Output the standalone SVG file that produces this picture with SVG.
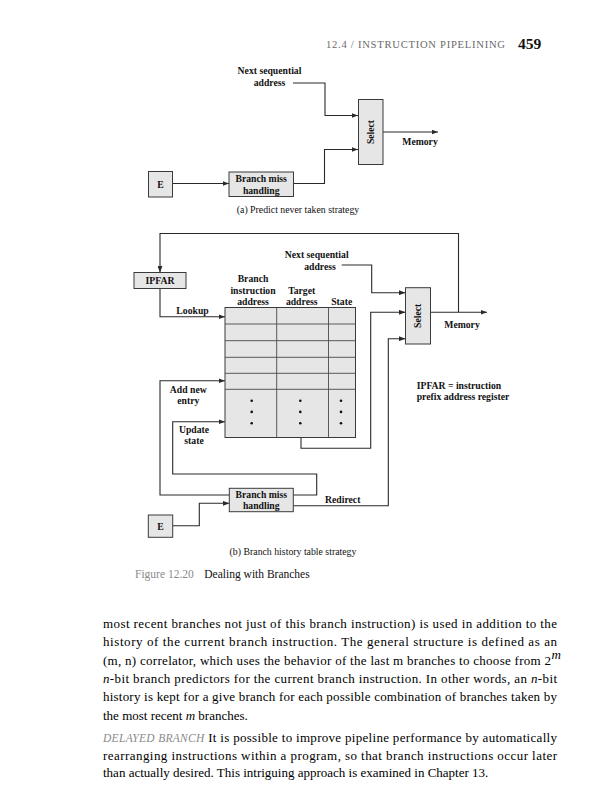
<svg xmlns="http://www.w3.org/2000/svg" width="604" height="800" viewBox="0 0 604 800">
<style>
  .bg{fill:#ffffff}
  .box{fill:#e6e6e6;stroke:#3a3a3a;stroke-width:1}
  .wire{fill:none;stroke:#2a2a2a;stroke-width:1.1}
  .grid{fill:none;stroke:#4a4a4a;stroke-width:0.9}
  .lbl{font-family:"Liberation Serif","Times New Roman",serif;font-weight:bold;font-size:9.7px;fill:#111;text-anchor:middle}
  .lbll{font-family:"Liberation Serif","Times New Roman",serif;font-weight:bold;font-size:9.7px;fill:#111}
  .cap{font-family:"Liberation Serif","Times New Roman",serif;font-size:9.8px;fill:#111;text-anchor:middle}
  .body{font-family:"Liberation Serif","Times New Roman",serif;font-size:13px;fill:#000}
  .dot{fill:#111}
</style>
<defs>
  <marker id="ah" viewBox="0 0 8 6" refX="8" refY="3" markerWidth="6.5" markerHeight="5" markerUnits="userSpaceOnUse" orient="auto">
    <path d="M0,0 L8,3 L0,6 Z" fill="#2a2a2a"/>
  </marker>
</defs>
<rect class="bg" x="0" y="0" width="604" height="800"/>

<!-- running header -->
<g id="header">
  <text x="326" y="48" font-family="Liberation Serif, Times New Roman, serif" font-size="10.6px" fill="#6a6a6a" textLength="179" lengthAdjust="spacing">12.4 / INSTRUCTION PIPELINING</text>
  <text x="518" y="48.5" font-family="Liberation Serif, Times New Roman, serif" font-size="15.5px" font-weight="bold" fill="#111">459</text>
</g>

<g id="connectors">
  <path class="wire" d="M293,83 H325 V115.5 H358" marker-end="url(#ah)"/>
  <path class="wire" d="M383,132 H438" marker-end="url(#ah)"/>
  <path class="wire" d="M172.5,183.5 H229" marker-end="url(#ah)"/>
  <path class="wire" d="M293.5,183.5 H324.5 V149.5 H358" marker-end="url(#ah)"/>

  <path class="wire" d="M458.5,312.3 V233.5 H160 V272.5" marker-end="url(#ah)"/>
  <path class="wire" d="M160,288.5 V316.7 H225" marker-end="url(#ah)"/>
  <path class="wire" d="M341.7,265 H371.7 V292.7 H405.5" marker-end="url(#ah)"/>
  <path class="wire" d="M430.5,312.3 H487" marker-end="url(#ah)"/>
  <path class="wire" d="M301,437.5 V448.3 H370.7 V312.3 H405.5" marker-end="url(#ah)"/>
  <path class="wire" d="M293.3,505.7 H388.3 V338.7 H405.5" marker-end="url(#ah)"/>
  <path class="wire" d="M229.3,495 H160 V380.7 H225" marker-end="url(#ah)"/>
  <path class="wire" d="M293.3,495 H316.7 V474 H172.7 V421.7 H225" marker-end="url(#ah)"/>
  <path class="wire" d="M172.7,525.7 H199.3 V503.3 H229.3" marker-end="url(#ah)"/>
</g>

<!-- ============ (a) ============ -->
<g id="a-next-label">
  <text class="lbl" x="269.5" y="74">Next sequential</text>
  <text class="lbl" x="269.5" y="85.5">address</text>
</g>
<g id="a-select">
  <rect class="box" x="358.5" y="99.5" width="24.5" height="65"/>
  <text class="lbl" transform="translate(374.2,132) rotate(-90)">Select</text>
</g>
<g id="a-memory">
  <text class="lbl" x="420" y="145">Memory</text>
</g>
<g id="a-e">
  <rect class="box" x="148.5" y="171.5" width="24" height="25.5"/>
  <text class="lbl" x="160.5" y="187.5">E</text>
</g>
<g id="a-branchmiss">
  <rect class="box" x="229" y="172" width="64.5" height="24.5"/>
  <text class="lbl" x="261.2" y="182.3">Branch miss</text>
  <text class="lbl" x="261.2" y="193.6">handling</text>
</g>
<g id="a-caption">
  <text class="cap" x="298" y="213">(a) Predict never taken strategy</text>
</g>

<!-- ============ (b) ============ -->
<g id="b-ipfar">
  <rect class="box" x="134" y="272.5" width="52" height="16"/>
  <text class="lbl" x="160" y="284">IPFAR</text>
</g>
<g id="b-lookup"><text class="lbl" x="192.5" y="313.5">Lookup</text></g>
<g id="b-next-label">
  <text class="lbl" x="316.7" y="258.3">Next sequential</text>
  <text class="lbl" x="320" y="269.7">address</text>
</g>
<g id="b-table">
  <rect class="box" x="225" y="307.5" width="130.5" height="130"/>
  <path class="grid" d="M225,324 H355.5 M225,340.7 H355.5 M225,357.3 H355.5 M225,373.3 H355.5 M225,389.3 H355.5 M276.7,307.5 V437.5 M328.5,307.5 V437.5"/>
  <circle class="dot" cx="251.7" cy="400.7" r="1.3"/>
  <circle class="dot" cx="251.7" cy="411.9" r="1.3"/>
  <circle class="dot" cx="251.7" cy="423.2" r="1.3"/>
  <circle class="dot" cx="300.3" cy="400.7" r="1.3"/>
  <circle class="dot" cx="300.3" cy="411.9" r="1.3"/>
  <circle class="dot" cx="300.3" cy="423.2" r="1.3"/>
  <circle class="dot" cx="341" cy="400.7" r="1.3"/>
  <circle class="dot" cx="341" cy="411.9" r="1.3"/>
  <circle class="dot" cx="341" cy="423.2" r="1.3"/>
  <text class="lbl" x="253" y="281.5">Branch</text>
  <text class="lbl" x="253" y="293.8">instruction</text>
  <text class="lbl" x="253" y="305">address</text>
  <text class="lbl" x="301.7" y="293.8">Target</text>
  <text class="lbl" x="301.7" y="305">address</text>
  <text class="lbl" x="341.7" y="305">State</text>
</g>
<g id="b-select">
  <rect class="box" x="405.5" y="287.7" width="25" height="56.3"/>
  <text class="lbl" transform="translate(421.4,315.8) rotate(-90)">Select</text>
</g>
<g id="b-memory"><text class="lbl" x="462" y="327.5">Memory</text></g>
<g id="b-legend">
  <text class="lbll" x="416.7" y="388.5">IPFAR = instruction</text>
  <text class="lbll" x="416.7" y="399.7">prefix address register</text>
</g>
<g id="b-addnew">
  <text class="lbl" x="188.3" y="392.5">Add new</text>
  <text class="lbl" x="188.3" y="404">entry</text>
</g>
<g id="b-update">
  <text class="lbl" x="194" y="433">Update</text>
  <text class="lbl" x="194" y="443.8">state</text>
</g>
<g id="b-branchmiss">
  <rect class="box" x="229.3" y="488.3" width="64" height="23.4"/>
  <text class="lbl" x="261.3" y="498">Branch miss</text>
  <text class="lbl" x="261.3" y="509.4">handling</text>
</g>
<g id="b-redirect"><text class="lbl" x="342.7" y="502.5">Redirect</text></g>
<g id="b-e">
  <rect class="box" x="148.3" y="515" width="24.4" height="22.3"/>
  <text class="lbl" x="160.5" y="529.8">E</text>
</g>
<g id="b-caption">
  <text class="cap" x="293" y="555">(b) Branch history table strategy</text>
</g>

<g id="figure-caption">
  <text x="135" y="577.5" font-family="Liberation Serif, Times New Roman, serif" font-size="11.5px" fill="#8a8a8a">Figure 12.20</text>
  <text x="204.3" y="577.5" font-family="Liberation Serif, Times New Roman, serif" font-size="11.5px" fill="#111">Dealing with Branches</text>
</g>

<g id="body">
  <text class="body" x="103" y="627.5" textLength="454" lengthAdjust="spacing">most recent branches not just of this branch instruction) is used in addition to the</text>
  <text class="body" x="103" y="646" textLength="454" lengthAdjust="spacing">history of the current branch instruction. The general structure is defined as an</text>
  <text class="body" x="103" y="664.5" textLength="448" lengthAdjust="spacing">(m, n) correlator, which uses the behavior of the last m branches to choose from 2</text>
  <text class="body" x="551.5" y="659" font-size="8.5px" font-style="italic">m</text>
  <text class="body" x="103" y="682.5" textLength="454" lengthAdjust="spacing"><tspan font-style="italic">n</tspan>-bit branch predictors for the current branch instruction. In other words, an <tspan font-style="italic">n</tspan>-bit</text>
  <text class="body" x="103" y="700.5" textLength="454" lengthAdjust="spacing">history is kept for a give branch for each possible combination of branches taken by</text>
  <text class="body" x="103" y="720">the most recent <tspan font-style="italic">m</tspan> branches.</text>
  <text class="body" x="103" y="742" textLength="454" lengthAdjust="spacing"><tspan font-style="italic" fill="#8a8a8a" font-size="11.5px">DELAYED BRANCH</tspan> It is possible to improve pipeline performance by automatically</text>
  <text class="body" x="103" y="759.5" textLength="454" lengthAdjust="spacing">rearranging instructions within a program, so that branch instructions occur later</text>
  <text class="body" x="103" y="777">than actually desired. This intriguing approach is examined in Chapter 13.</text>
</g>
</svg>
